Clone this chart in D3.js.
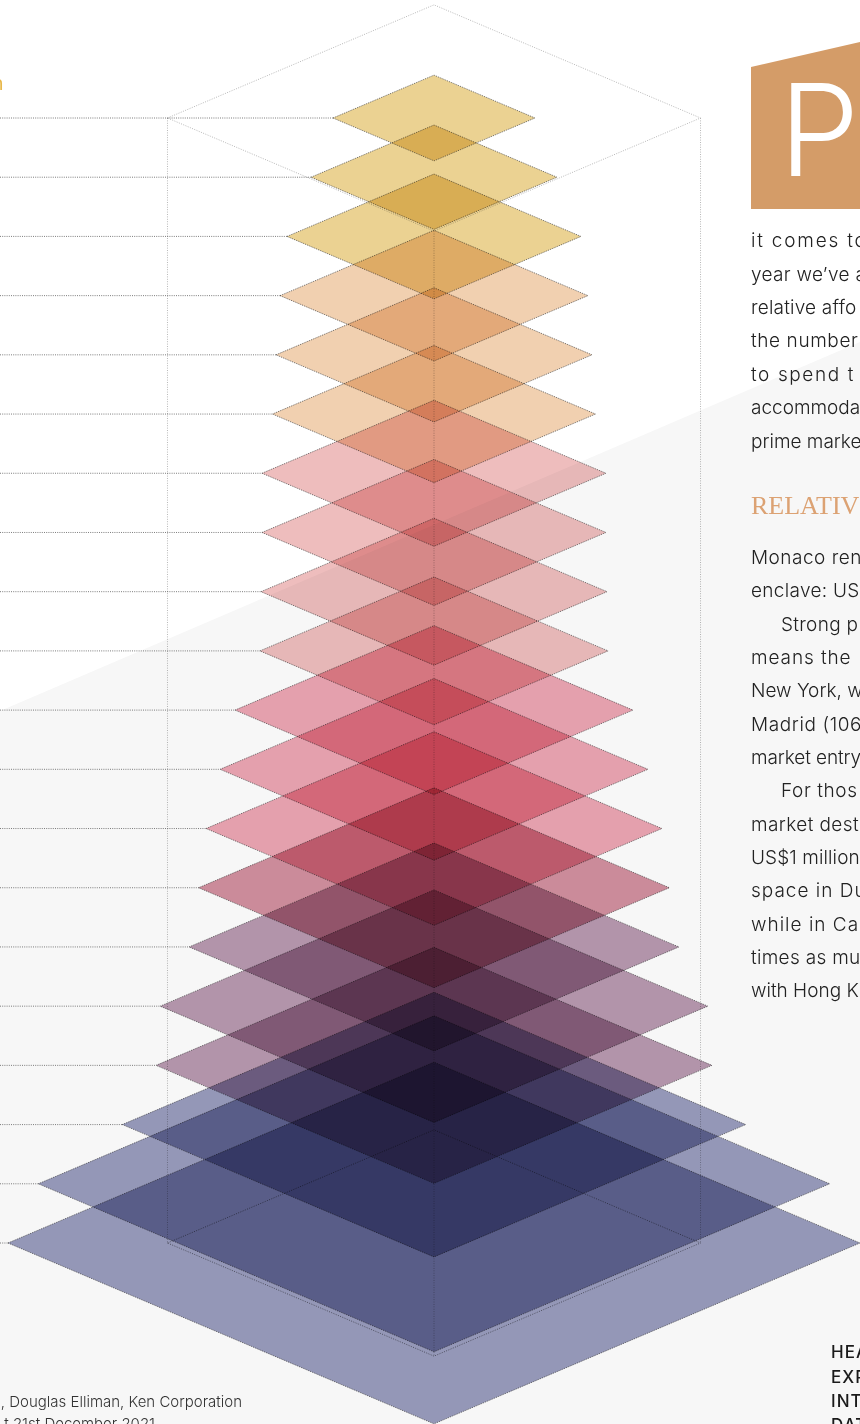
<!DOCTYPE html>
<html><head><meta charset="utf-8">
<style>html,body{margin:0;padding:0;background:#fff;overflow:hidden}svg{display:block}</style>
<script src="https://cdn.jsdelivr.net/npm/d3@7"></script></head>
<body><div id="c"></div>
<script>
// Rows of the chart, top to bottom. Values: floor area (sq m) estimated from diamond sizes.
const rows = d3.range(20);
const values = [17,25.2,36,39.5,41.6,43.5,49.3,49.3,49.9,50.5,66,76.3,86.6,92.4,100,125,128.8,162,261,302.5];
const rowColors = ["#ebd292","#ebd292","#ebd292","#f1d0b0","#f1d0b0","#f1d0b0","#eebdbd","#eebdbd","#eebdbd","#eebdbd",
  "#eca5b3","#eca5b3","#eca5b3","#d2909f","#b899b0","#b899b0","#b899b0","#999cbd","#999cbd","#999cbd"];
const boxValue = 118.4;

const introLines = ["it comes to","year we’ve a","relative affo","the number","to spend t","accommoda","prime marke"];
const introBase = [247,281,314,347,381,414,448];
const introTrack = [1.8,.3,.2,.6,1.6,0,0];
const bodyLines = ["Monaco ren","enclave: US","Strong p","means the","New York, w","Madrid (106","market entry","For thos","market dest","US$1 million","space in Du","while in Ca","times as mu","with Hong K"];
const bodyBase = [564,597,631,664,697,731,764,797,831,864,897,931,964,997];
const bodyTrack = [.5,.3,.3,.9,0,.6,-.1,.6,.4,.1,1,1,.3,0];
const bodyIndented = [2,7];
const sideLines = ["HEA","EXP","INT","DAT"];
const sideBase = [1358,1383,1407,1431];
const sourceLines = ["n, Douglas Elliman, Ken Corporation","t 21st December 2021"];
const sourceBase = [1407,1429];
const sourceEnd = [242,155];

const W=860,H=1424,cx=434,ratio=0.4245;
const yScale=d3.scalePoint().domain(rows).range([118,1243]);
const rScale=d3.scaleSqrt().domain([0,302.5]).range([0,426]);
const diamond=(y,hw)=>d3.line().curve(d3.curveLinearClosed)([[cx-hw,y],[cx,y-hw*ratio],[cx+hw,y],[cx,y+hw*ratio]]);

const svg=d3.select("#c").append("svg").attr("width",W).attr("height",H).attr("viewBox",`0 0 ${W} ${H}`);
svg.append("rect").attr("width",W).attr("height",H).attr("fill","#fff");
svg.append("path").attr("d",d3.line()([[0,711],[W,342],[W,H],[0,H]])+"Z").attr("fill","#f7f7f7");

// leaders
svg.append("g").selectAll("line").data(rows).join("line")
  .attr("x1",0).attr("x2",d=>cx-rScale(values[d])).attr("y1",d=>yScale(d)).attr("y2",d=>yScale(d))
  .attr("stroke","#5c5c5c").attr("stroke-width",.8).attr("stroke-dasharray","1 1.2");

// diamonds
svg.append("g").selectAll("path").data(rows).join("path")
  .attr("d",d=>diamond(yScale(d),rScale(values[d])))
  .attr("fill",d=>rowColors[d]).style("mix-blend-mode","multiply")
  .attr("stroke","#333").attr("stroke-width",.7).attr("stroke-dasharray","1 1");

// wireframe box
const boxR=rScale(boxValue), y0=yScale(rows[0]), y1=yScale(rows[19]);
const wire=svg.append("g").attr("fill","none").style("mix-blend-mode","multiply")
  .attr("stroke","#a6a6a6").attr("stroke-width",.8).attr("stroke-dasharray","1 1.4");
wire.append("path").attr("d",diamond(y0,boxR));
wire.append("path").attr("d",diamond(y1,boxR)).attr("stroke","#666");
[[cx-boxR,y0,y1],[cx+boxR,y0,y1],[cx,y0+boxR*ratio,y1+boxR*ratio]].forEach(([x,a,b])=>
  wire.append("line").attr("x1",x).attr("x2",x).attr("y1",a).attr("y2",b));

// drop cap block
svg.append("path").attr("d",d3.line()([[751,67],[860,42],[860,209],[751,209]])+"Z").attr("fill","#d49c68");
svg.append("text").attr("x",779).attr("y",176).text("P").attr("fill","#fff")
  .attr("font-family","Inter").attr("font-weight",300).attr("font-size",128);

const body=(sel)=>sel.attr("font-family","Inter").attr("font-weight",300).attr("font-size",19).attr("fill","#222");
svg.append("g").selectAll("text").data(introLines).join("text").text(d=>d).attr("x",751)
  .attr("y",(d,i)=>introBase[i]).attr("letter-spacing",(d,i)=>introTrack[i]).call(body);
svg.append("g").selectAll("text").data(bodyLines).join("text").text(d=>d)
  .attr("x",(d,i)=>bodyIndented.includes(i)?781:751)
  .attr("y",(d,i)=>bodyBase[i]).attr("letter-spacing",(d,i)=>bodyTrack[i]).call(body);
svg.append("text").text("RELATIV").attr("x",751).attr("y",514).attr("font-family","Liberation Serif").attr("font-size",26).attr("fill","#dca273");
svg.append("g").selectAll("text").data(sideLines).join("text").text(d=>d).attr("x",831).attr("y",(d,i)=>sideBase[i])
  .attr("font-family","Inter").attr("font-weight",500).attr("font-size",17).attr("letter-spacing",1).attr("fill","#1a1a1a");
svg.append("g").selectAll("text").data(sourceLines).join("text").text(d=>d).attr("x",(d,i)=>sourceEnd[i]).attr("y",(d,i)=>sourceBase[i]).attr("text-anchor","end")
  .attr("font-family","Inter").attr("font-weight",300).attr("font-size",15).attr("fill","#333");
svg.append("text").text("n").attr("x",3.5).attr("y",90).attr("text-anchor","end").attr("font-family","Inter").attr("font-weight",400).attr("font-size",20).attr("fill","#e8b84b");
</script></body></html>
